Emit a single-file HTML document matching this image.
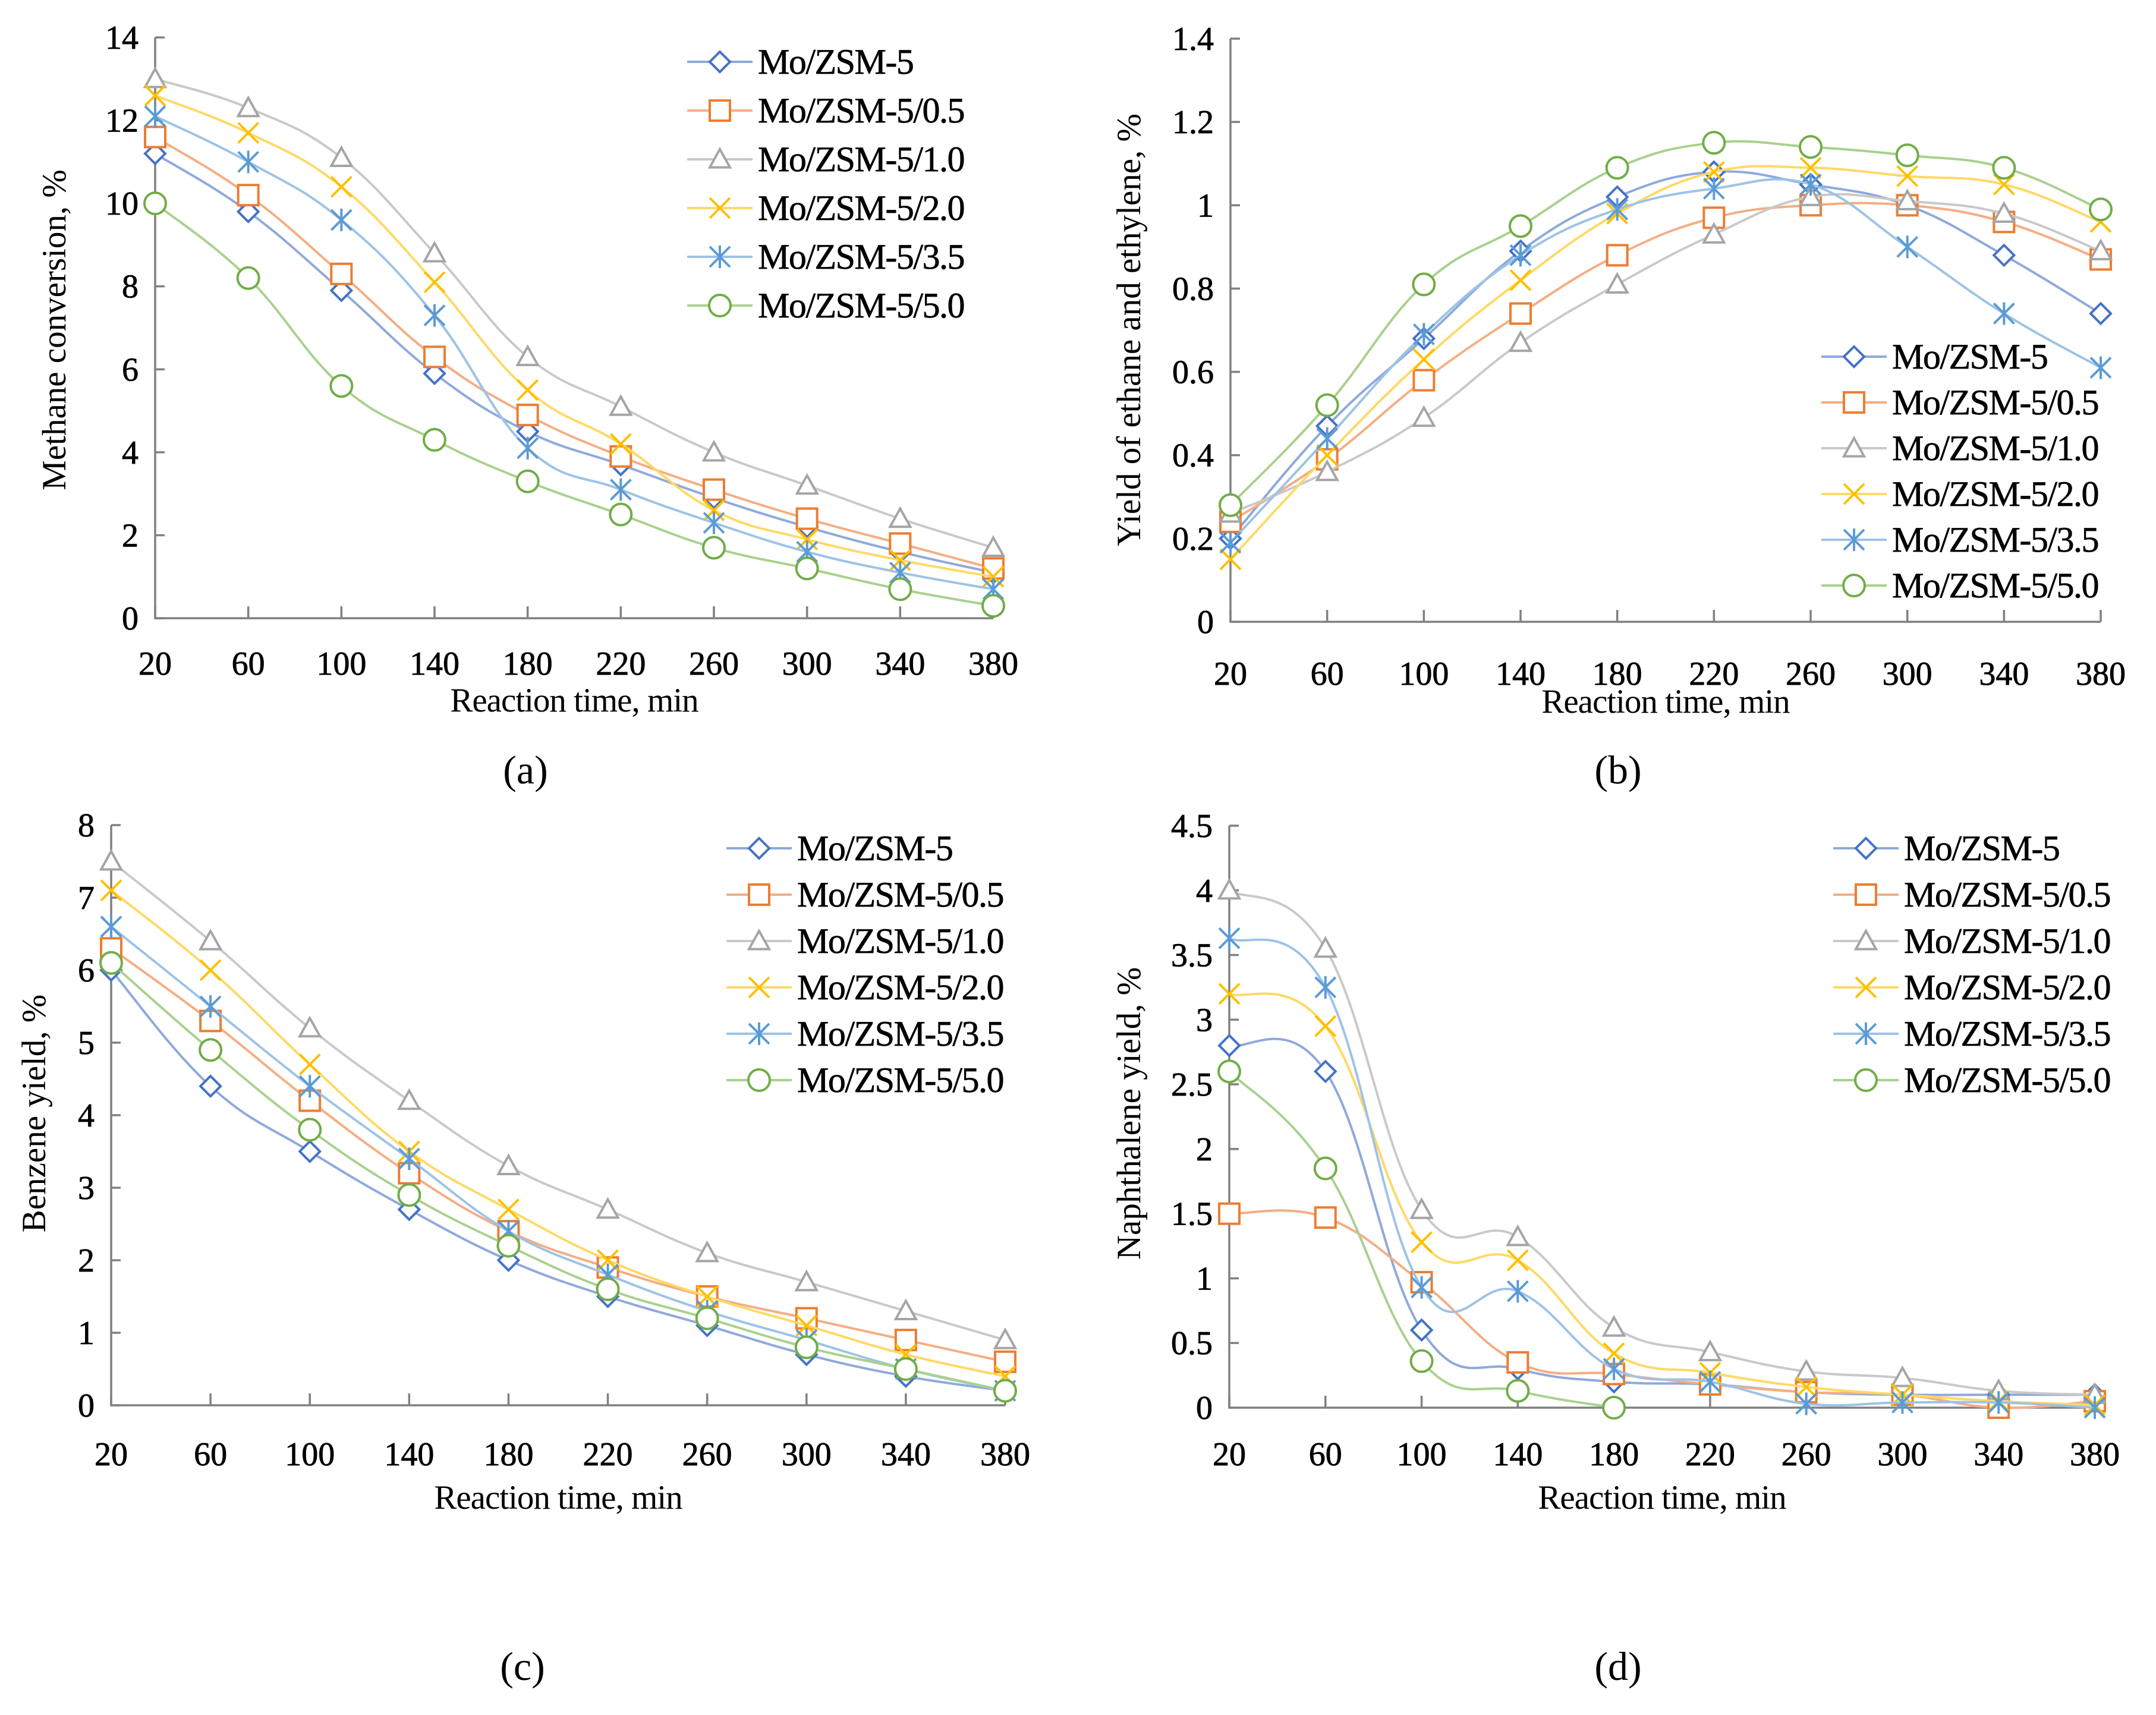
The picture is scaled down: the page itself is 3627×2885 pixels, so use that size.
<!DOCTYPE html>
<html><head><meta charset="utf-8"><style>
html,body{margin:0;padding:0;background:#fff;}
svg{display:block;font-family:"Liberation Serif",serif;}
</style></head><body>
<svg id="fig" width="3627" height="2885" viewBox="0 0 3627 2885" xmlns="http://www.w3.org/2000/svg"></svg>
<script>
const categories=[20,60,100,140,180,220,260,300,340,380];
const seriesNames=["Mo/ZSM-5","Mo/ZSM-5/0.5","Mo/ZSM-5/1.0","Mo/ZSM-5/2.0","Mo/ZSM-5/3.5","Mo/ZSM-5/5.0"];
const convMo=[11.2,9.8,7.9,5.9,4.5,3.7,2.9,2.2,1.6,1.1];
const conv05=[11.6,10.2,8.3,6.3,4.9,3.9,3.1,2.4,1.8,1.2];
const conv10=[13.0,12.3,11.1,8.8,6.3,5.1,4.0,3.2,2.4,1.7];
const conv20=[12.6,11.7,10.4,8.1,5.5,4.2,2.6,1.9,1.4,1.0];
const conv35=[12.1,11.0,9.6,7.3,4.1,3.1,2.3,1.6,1.1,0.7];
const conv50=[10.0,8.2,5.6,4.3,3.3,2.5,1.7,1.2,0.7,0.3];
const c2Mo=[0.2,0.47,0.68,0.89,1.02,1.08,1.05,1.0,0.88,0.74];
const c205=[0.24,0.39,0.58,0.74,0.88,0.97,1.0,1.0,0.96,0.87];
const c210=[0.26,0.36,0.49,0.67,0.81,0.93,1.02,1.01,0.98,0.89];
const c220=[0.15,0.40,0.63,0.82,0.98,1.08,1.09,1.07,1.05,0.96];
const c235=[0.19,0.44,0.69,0.88,0.99,1.04,1.05,0.9,0.74,0.61];
const c250=[0.28,0.52,0.81,0.95,1.09,1.15,1.14,1.12,1.09,0.99];
const benMo=[6.0,4.4,3.5,2.7,2.0,1.5,1.1,0.7,0.4,0.2];
const ben05=[6.3,5.3,4.2,3.2,2.4,1.9,1.5,1.2,0.9,0.6];
const ben10=[7.5,6.4,5.2,4.2,3.3,2.7,2.1,1.7,1.3,0.9];
const ben20=[7.1,6.0,4.7,3.5,2.7,2.0,1.5,1.1,0.7,0.4];
const ben35=[6.6,5.5,4.4,3.4,2.4,1.8,1.3,0.9,0.5,0.2];
const ben50=[6.1,4.9,3.8,2.9,2.2,1.6,1.2,0.8,0.5,0.2];
const napMo=[2.8,2.6,0.6,0.3,0.2,0.18,0.12,0.1,0.1,0.1];
const nap05=[1.5,1.47,0.97,0.35,0.26,0.18,0.12,0.1,0.0,0.05];
const nap10=[4.0,3.55,1.53,1.32,0.62,0.43,0.28,0.23,0.13,0.1];
const nap20=[3.2,2.95,1.28,1.14,0.42,0.27,0.16,0.1,0.05,0.02];
const nap35=[3.63,3.25,0.93,0.9,0.3,0.2,0.03,0.04,0.04,0.0];
const nap50=[2.6,1.85,0.36,0.13,0.0,null,null,null,null,null];
const ticksA=[0,2,4,6,8,10,12,14];
const ticksB=[0,0.2,0.4,0.6,0.8,1,1.2,1.4];
const ticksC=[0,1,2,3,4,5,6,7,8];
const ticksD=[0,0.5,1,1.5,2,2.5,3,3.5,4,4.5];

const colors=["#4472C4","#ED7D31","#A5A5A5","#FFC000","#5B9BD5","#70AD47"];
const lineColors=["#8FA9DB","#F4AE84","#C9C9C9","#FFD966","#9DC3E6","#A9D18E"];
const markers=["diamond","square","triangle","x","star","circle"];
const NS="http://www.w3.org/2000/svg";
const svg=document.getElementById('fig');
function mk(tag,attrs,parent){const e=document.createElementNS(NS,tag);for(const k in attrs)e.setAttribute(k,attrs[k]);(parent||svg).appendChild(e);return e;}

function marker(g,type,x,y,c){
  const s=17;let e;
  if(type==="diamond")e=mk('polygon',{points:`${x},${y-s} ${x+s},${y} ${x},${y+s} ${x-s},${y}`,fill:'#fff',stroke:c,'stroke-width':4},g);
  else if(type==="square")e=mk('rect',{x:x-s,y:y-s,width:2*s,height:2*s,fill:'#fff',stroke:c,'stroke-width':4},g);
  else if(type==="triangle")e=mk('polygon',{points:`${x},${y-s} ${x+s},${y+s*0.8} ${x-s},${y+s*0.8}`,fill:'#fff',stroke:c,'stroke-width':4},g);
  else if(type==="x")e=mk('path',{d:`M${x-s},${y-s}L${x+s},${y+s}M${x-s},${y+s}L${x+s},${y-s}`,stroke:c,'stroke-width':4,fill:'none'},g);
  else if(type==="star")e=mk('path',{d:`M${x-s},${y-s}L${x+s},${y+s}M${x-s},${y+s}L${x+s},${y-s}M${x},${y-s-2}L${x},${y+s+2}`,stroke:c,'stroke-width':4,fill:'none'},g);
  else e=mk('circle',{cx:x,cy:y,r:s+1,fill:'#fff',stroke:c,'stroke-width':4},g);
  
  
}

function smooth(pts){
  let d=`M${pts[0][0]},${pts[0][1]}`;
  for(let i=0;i<pts.length-1;i++){
    const p0=pts[i-1]||pts[i],p1=pts[i],p2=pts[i+1],p3=pts[i+2]||pts[i+1];
    const t=0.2;
    const c1=[p1[0]+(p2[0]-p0[0])*t,p1[1]+(p2[1]-p0[1])*t];
    const c2=[p2[0]-(p3[0]-p1[0])*t,p2[1]-(p3[1]-p1[1])*t];
    d+=`C${c1[0]},${c1[1]} ${c2[0]},${c2[1]} ${p2[0]},${p2[1]}`;
  }
  return d;
}

function chart(cfg){
  const g=mk('g',{});
  
  
  const {x0,x1,y0,y1,ymax,ticks}=cfg;
  const xs=v=>x0+(v-categories[0])/(categories[categories.length-1]-categories[0])*(x1-x0);
  const ys=v=>y0-(v/ymax)*(y0-y1);
  const ax=mk('path',{d:`M${x0},${y1}V${y0}H${x1}`,stroke:'#808080','stroke-width':3.5,fill:'none'},g);
  
  
  ticks.forEach(t=>{
    const yy=ys(t);
    mk('line',{x1:x0,x2:x0+16,y1:yy,y2:yy,stroke:'#808080','stroke-width':3.5},g);
    const tx=mk('text',{x:x0-28,y:yy+19,'text-anchor':'end','font-size':56,stroke:'#000','stroke-width':0.8},g);
    tx.textContent=String(t);
    
    
  });
  categories.forEach(c=>{
    const xx=xs(c);
    mk('line',{x1:xx,x2:xx,y1:y0,y2:y0-20,stroke:'#808080','stroke-width':3.5},g);
    const tx=mk('text',{x:xx,y:cfg.xlabY,'text-anchor':'middle','font-size':56,stroke:'#000','stroke-width':0.8},g);
    tx.textContent=String(c);
    
    
  });
  const xt=mk('text',{x:(x0+x1)/2,y:cfg.xtitleY,'text-anchor':'middle','font-size':57,'letter-spacing':-1},g);
  xt.textContent='Reaction time, min';
  
  
  const yt=mk('text',{x:0,y:0,'text-anchor':'middle','font-size':57,transform:`translate(${cfg.ytX},${cfg.ytY}) rotate(-90)`},g);
  yt.textContent=cfg.ytitle;
  
  
  const lab=mk('text',{x:cfg.labX,y:cfg.labY,'text-anchor':'middle','font-size':68},g);
  lab.textContent=cfg.label;
  
  
  cfg.series.forEach((arr,si)=>{
    const sg=mk('g',{},g);
    
    
    const pts=[];
    arr.forEach((v,i)=>{if(v!==null)pts.push([xs(categories[i]),ys(v)]);});
    const p=mk('path',{d:smooth(pts),stroke:lineColors[si],'stroke-width':4,fill:'none'},sg);
    
    
    pts.forEach(pt=>marker(sg,markers[si],pt[0],pt[1],colors[si]));
  });
  const lg=mk('g',{},g);
  
  
  seriesNames.forEach((n,i)=>{
    const yy=cfg.legY+i*cfg.legStep;
    const eg=mk('g',{},lg);
    
    
    mk('line',{x1:cfg.legX-55,x2:cfg.legX+55,y1:yy,y2:yy,stroke:lineColors[i],'stroke-width':4},eg);
    marker(eg,markers[i],cfg.legX,yy,colors[i]);
    const t=mk('text',{x:cfg.legX+64,y:yy+20,'font-size':60,'letter-spacing':-1.5,stroke:'#000','stroke-width':0.7},eg);
    t.textContent=n;
  });
}

chart({name:'chart-a-methane-conversion',x0:261,x1:1671,y0:1040,y1:63,ymax:14,ticks:ticksA,xlabY:1135,xtitleY:1197,ytitle:'Methane conversion, %',ytX:110,ytY:555,label:'(a)',labX:884,labY:1318,series:[convMo,conv05,conv10,conv20,conv35,conv50],legX:1211,legY:104,legStep:82});
chart({name:'chart-b-ethane-ethylene-yield',x0:2070,x1:3534,y0:1046,y1:65,ymax:1.4,ticks:ticksB,xlabY:1152,xtitleY:1199,ytitle:'Yield of ethane and ethylene, %',ytX:1918,ytY:555,label:'(b)',labX:2722,labY:1318,series:[c2Mo,c205,c210,c220,c235,c250],legX:3119,legY:600,legStep:77});
chart({name:'chart-c-benzene-yield',x0:187,x1:1691,y0:2364,y1:1388,ymax:8,ticks:ticksC,xlabY:2465,xtitleY:2538,ytitle:'Benzene yield, %',ytX:76,ytY:1873,label:'(c)',labX:879,labY:2826,series:[benMo,ben05,ben10,ben20,ben35,ben50],legX:1277,legY:1427,legStep:78});
chart({name:'chart-d-naphthalene-yield',x0:2068,x1:3524,y0:2368,y1:1389,ymax:4.5,ticks:ticksD,xlabY:2465,xtitleY:2538,ytitle:'Naphthalene yield, %',ytX:1918,ytY:1873,label:'(d)',labX:2722,labY:2826,series:[napMo,nap05,nap10,nap20,nap35,nap50],legX:3139,legY:1427,legStep:78});
</script>
</body></html>
